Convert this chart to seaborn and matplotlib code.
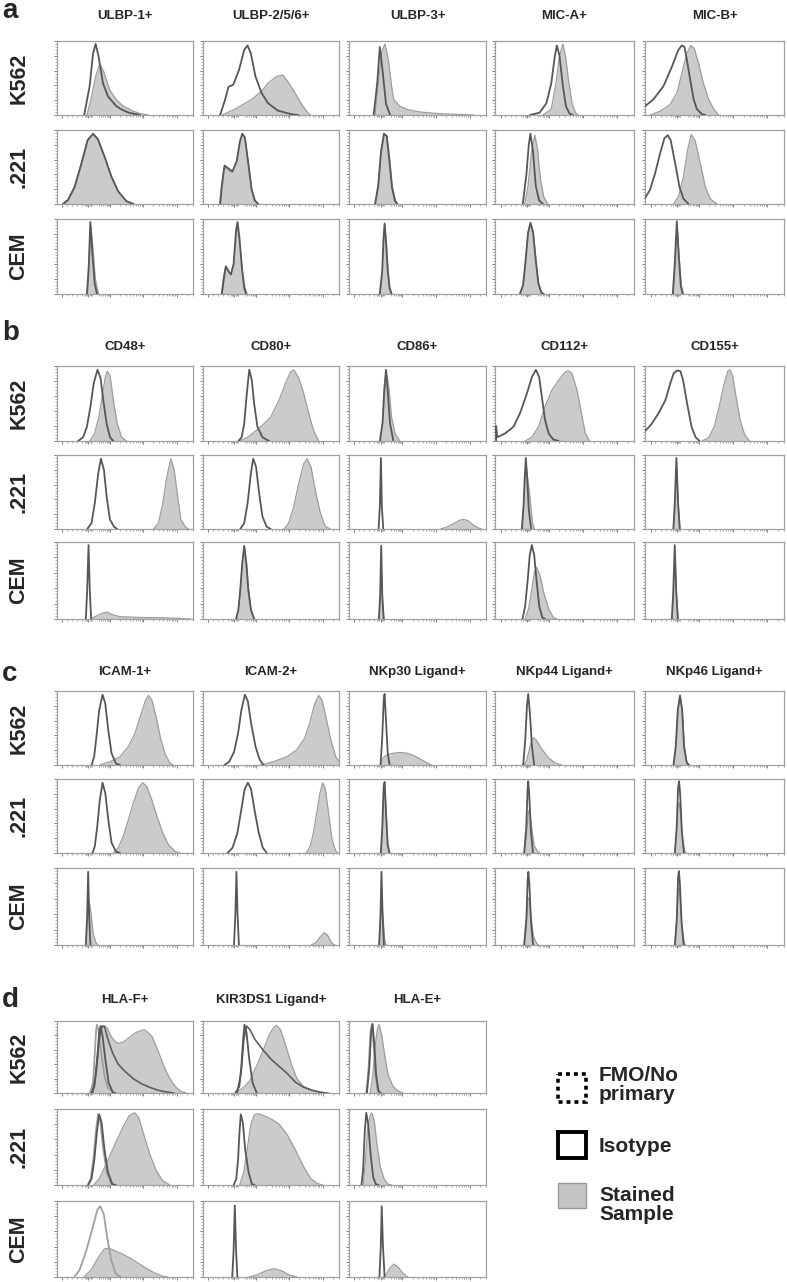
import matplotlib
matplotlib.use("Agg")
import numpy as np
import pandas as pd
import matplotlib.pyplot as plt
from matplotlib.patches import Rectangle
import seaborn as sns

# histogram outlines: (x %, y %) of each box, rows = K562, .221, CEM
CELLS = ["K562", ".221", "CEM"]

# ---- panel a ----
ULBP1_ISO = [
    [(20, 0), (24, 39), (26.5, 83), (28.4, 96), (30.6, 79), (33.8, 43), (37.5, 25), (43.6, 12), (48, 7), (53, 3), (61, 0)],
    [(4.4, 0), (8, 5), (13, 23), (18, 55), (22.5, 86), (26.5, 95), (30, 88), (35, 64), (40, 37), (45, 17), (51, 4), (56, 0)],
    [(22, 0), (23.3, 36), (24.5, 96), (26, 54), (27.7, 14), (29.4, 0)],
]
ULBP1_STAINED = [
    [(22, 0), (25, 21), (28.4, 52), (31.4, 69), (34.3, 59), (38.7, 34), (43.6, 21), (48, 13), (55, 6), (61, 2), (67, 0)],
    [(4, 0), (8, 6), (13, 24), (18, 56), (22.5, 87), (26.5, 94), (30, 87), (35, 63), (40, 37), (45, 17), (51, 4), (57, 0)],
    [(22.5, 0), (23.8, 40), (25, 90), (26.5, 60), (28.2, 20), (30.5, 0)],
]
ULBP256_ISO = [
    [(12.6, 0), (16.3, 21), (18.7, 38), (22.3, 41), (26.5, 61), (30.3, 88), (32.8, 94), (35.2, 83), (38.6, 52), (43, 30), (47.8, 16), (55, 6), (65, 1), (70, 0)],
    [(12.6, 0), (13.8, 23), (15.8, 52), (18.7, 48), (21.6, 44), (24.8, 58), (27.2, 85), (28.9, 95), (30.8, 90), (33.3, 55), (35.7, 20), (38, 5), (40.5, 0)],
    [(13.9, 0), (15.3, 20), (16.8, 37), (18.6, 31), (20.5, 26), (22.5, 40), (24.3, 85), (25.4, 96), (26.8, 75), (28.6, 35), (30.3, 8), (31.7, 0)],
]
ULBP256_STAINED = [
    [(14, 0), (23.5, 8), (35.7, 21), (43, 32), (47.8, 43), (54, 52), (58.7, 54), (62.4, 45), (67, 32), (72, 16), (77, 3), (79, 0)],
    [(12.2, 0), (13.6, 25), (15.6, 50), (18.5, 46), (21.6, 43), (24.8, 57), (27.2, 84), (29.1, 94), (31, 88), (33.5, 52), (36, 18), (38.5, 4), (41, 0)],
    [(13.5, 0), (15, 22), (16.6, 36), (18.6, 30), (20.5, 26), (22.5, 38), (24.5, 80), (25.6, 90), (27.2, 65), (29, 30), (31, 7), (32.5, 0)],
]
ULBP3_ISO = [
    [(18, 0), (20.6, 43), (22.5, 92), (24.5, 60), (27, 15), (30, 0)],
    [(19, 0), (21.3, 25), (23.3, 70), (25.5, 95), (27.5, 92), (29.4, 60), (31.4, 22), (33.6, 4), (35.3, 0)],
    [(22.4, 0), (24.2, 30), (25.2, 75), (26, 94), (27, 70), (28.3, 30), (29.6, 8), (31, 0)],
]
ULBP3_STAINED = [
    [(19, 0), (21.3, 40), (23.8, 85), (26.2, 96), (28.7, 75), (31, 40), (32.6, 21), (37, 12), (42.4, 7.5), (52, 4), (65, 2), (77, 1), (91, 0)],
    [(19.5, 0), (21.5, 22), (23.5, 68), (25.7, 94), (27.7, 92), (29.6, 62), (31.6, 24), (33.8, 5), (35.5, 0)],
    [(22.8, 0), (24.4, 28), (25.4, 70), (26.2, 90), (27.2, 70), (28.5, 32), (29.8, 9), (31.3, 0)],
]
MICA_ISO = [
    [(25, 0), (32, 3), (37, 16), (40.5, 43), (43, 79), (44.5, 94), (46.4, 80), (48.8, 40), (51, 12), (53.6, 2), (56, 0)],
    [(20, 0), (22.6, 40), (24.3, 80), (25.5, 95), (27.4, 70), (29.3, 25), (31.7, 5), (34.5, 0)],
    [(17.9, 0), (20.2, 12), (22, 45), (23.8, 82), (25.5, 95), (27.4, 82), (29.3, 45), (31.2, 14), (33.3, 2), (35, 0)],
]
MICA_STAINED = [
    [(34.5, 0), (40.5, 8), (44, 45), (46.4, 80), (48.8, 96), (50.7, 80), (53, 45), (55.5, 15), (58, 3), (60, 0)],
    [(21.4, 0), (23.8, 25), (26.2, 70), (28.6, 93), (30.5, 75), (32.6, 35), (35, 10), (38, 0)],
    [(18.2, 0), (20.5, 12), (22.3, 45), (24, 82), (25.7, 94), (27.6, 82), (29.5, 45), (31.4, 14), (33.5, 2), (35.3, 0)],
]
MICB_ISO = [
    [(0, 12), (6, 21), (13.3, 39), (19.3, 65), (24, 88), (26.5, 94), (28.4, 92), (30, 76), (32.5, 48), (35, 21), (37.3, 8), (41, 1), (43.4, 0)],
    [(0, 8), (3.6, 19), (7.2, 41), (10.8, 68), (14, 89), (16.4, 93), (18.5, 86), (21.7, 55), (24.8, 23), (27.7, 7), (31.3, 0)],
    [(20, 0), (21.4, 40), (22.9, 97), (24.3, 50), (25.8, 10), (27.2, 0)],
]
MICB_STAINED = [
    [(3.6, 0), (10.8, 5), (18, 14), (23, 30), (26.5, 56), (30, 83), (33, 94), (35.4, 90), (38.5, 70), (42, 43), (45.8, 21), (49.4, 8), (53, 0)],
    [(20.5, 0), (24, 10), (27.7, 37), (30.6, 73), (33.3, 94), (36, 86), (39.8, 55), (43.4, 23), (47, 7), (51.8, 0)],
    [(20.3, 0), (21.7, 35), (23.2, 88), (24.6, 50), (26.1, 12), (27.6, 0)],
]

# ---- panel b ----
CD48_ISO = [
    [(15.5, 0), (19.2, 5), (22, 19), (24.6, 46), (27, 77), (29.8, 95), (32, 84), (34, 55), (36.5, 23), (39, 5), (41.4, 0)],
    [(22.2, 0), (25.4, 8), (27.8, 35), (30.3, 75), (32.3, 95), (34.5, 80), (36.5, 44), (38.9, 13), (41.9, 3), (44.3, 0)],
    [(21.2, 0), (22.2, 38), (23.2, 96), (24.1, 38), (25.1, 0)],
]
CD48_STAINED = [
    [(24, 0), (27.6, 10), (30.8, 32), (33.5, 63), (35.5, 85), (37, 93), (39, 87), (41.4, 55), (44.3, 23), (47.5, 5), (51.2, 0)],
    [(71, 0), (74.6, 8), (77.8, 35), (80.8, 71), (83.7, 95), (86.2, 80), (88.7, 44), (91, 13), (94.3, 3), (96.8, 0)],
    [(25, 0), (26.6, 2), (30.3, 5), (34, 8), (37, 9), (40.1, 6), (46.3, 3), (61, 2), (80.8, 1.5), (93, 0.5), (98, 0)],
]
CD80_ISO = [
    [(26, 0), (28.4, 5), (30.3, 23), (32, 59), (34, 95), (35.9, 81), (37.6, 50), (40, 19), (43.7, 5), (48.5, 0)],
    [(27.4, 0), (30.3, 8), (32.8, 35), (35.2, 75), (36.9, 95), (39, 84), (41.3, 48), (43.7, 17), (46.8, 3), (49.8, 0)],
    [(24.3, 0), (26, 12), (27.4, 38), (28.9, 73), (30.3, 95), (31.8, 73), (33.3, 38), (35.2, 12), (37.6, 0)],
]
CD80_STAINED = [
    [(26.7, 0), (32.8, 5), (42.5, 19), (49.8, 32), (55.8, 54), (60.7, 77), (64.3, 92), (66.7, 95), (70.4, 84), (74, 64), (77.7, 37), (81.3, 14), (85, 0)],
    [(59.5, 0), (63, 8), (66.7, 30), (70.4, 62), (74, 88), (76.5, 95), (79.4, 84), (82.5, 53), (86.2, 22), (89.8, 4), (93.5, 0)],
    [(24.5, 0), (26.2, 12), (27.6, 40), (29.1, 76), (30.5, 93), (32, 73), (33.5, 38), (35.4, 12), (37.8, 0)],
]
CD86_ISO = [
    [(22.5, 0), (24.5, 24), (25.7, 68), (27, 95), (28.2, 68), (29.9, 24), (32.4, 0)],
    [(21.6, 0), (22.5, 30), (23.3, 96), (24, 30), (25, 0)],
    [(21.8, 0), (22.7, 30), (23.5, 95), (24.3, 30), (25.3, 0)],
]
CD86_STAINED = [
    [(23, 0), (24.8, 32), (26.5, 72), (27.7, 88), (29.2, 70), (31, 32), (33.6, 10), (37, 0)],
    [(67, 0), (72, 3), (77, 8), (81, 12), (84, 13), (87, 11), (91, 5), (95, 1), (97, 0)],
    [(22, 0), (22.9, 25), (23.7, 60), (24.5, 25), (25.5, 0)],
]
CD112_ISO = [
    [(0.8, 0), (0.8, 20), (1.6, 5), (7.2, 10), (13.3, 19), (18, 37), (22.9, 63), (26.5, 85), (29.4, 95), (31.8, 85), (33.7, 59), (36, 28), (38.6, 10), (42, 2), (45.8, 0)],
    [(19.3, 0), (20.5, 30), (21.4, 70), (22.2, 96), (23.1, 70), (24.3, 26), (26, 0)],
    [(19.8, 0), (21.7, 17), (23.6, 52), (25, 83), (26.5, 96), (28.2, 83), (30, 48), (31.8, 17), (34, 2), (36, 0)],
]
CD112_STAINED = [
    [(21.7, 0), (26.5, 5), (31.3, 19), (36, 46), (41, 68), (45.8, 81), (49.4, 90), (52.5, 94), (55.4, 90), (59, 68), (62.7, 32), (65, 10), (68, 0)],
    [(19.8, 0), (21, 44), (22.2, 88), (23.4, 70), (24.6, 53), (25.8, 30), (27, 8), (28.4, 0)],
    [(21.7, 0), (24.1, 13), (26.5, 39), (28.4, 61), (30, 67), (32.5, 56), (34.9, 35), (38.6, 13), (42, 2), (44.6, 0)],
]
CD155_ISO = [
    [(0.5, 14), (4.9, 23), (9.7, 37), (14.6, 54), (18.2, 77), (20.6, 90), (23, 94), (25.5, 93), (27.4, 81), (30.3, 50), (33.5, 19), (36.4, 5), (39.3, 0)],
    [(20.4, 0), (21.4, 35), (22.6, 96), (23.8, 35), (25, 0)],
    [(19.3, 0), (20.3, 35), (21.4, 96), (22.5, 35), (23.6, 0)],
]
CD155_STAINED = [
    [(41.3, 0), (46, 5), (49.8, 19), (53.4, 46), (56.3, 72), (59.5, 93), (61.2, 95), (63, 87), (65.5, 59), (68.4, 28), (71.6, 9), (75.2, 0)],
    [(20.6, 0), (21.6, 30), (22.8, 85), (24, 30), (25.2, 0)],
    [(19.5, 0), (20.5, 30), (21.6, 80), (22.7, 30), (23.8, 0)],
]

# ---- panel c ----
ICAM1_ISO = [
    [(25.4, 0), (27.3, 11), (29, 38), (31, 74), (33.5, 95), (35.5, 83), (37.7, 47), (40.1, 16), (43.3, 2), (46.3, 0)],
    [(26.1, 0), (27.8, 9), (29.6, 36), (31.5, 72), (33.5, 95), (35.5, 81), (37.7, 45), (40.1, 14), (43.3, 2), (46.3, 0)],
    [(21.2, 0), (22.2, 40), (22.9, 95), (23.6, 40), (24.6, 0)],
]
ICAM1_STAINED = [
    [(31.5, 0), (39, 4.5), (46.3, 11), (52.5, 25), (57.4, 43), (61.1, 65), (64.8, 86), (67.2, 94), (69.7, 88), (72.9, 65), (75.9, 38), (79.6, 14), (83.3, 2), (85.7, 0)],
    [(41.4, 0), (45, 7), (48.8, 23), (52.5, 45), (56.2, 68), (59.9, 88), (63, 95), (66, 90), (69.7, 72), (73.4, 50), (77.8, 27), (82, 11), (87, 2), (90.6, 0)],
    [(21.2, 0), (22.4, 30), (23.6, 57), (25.1, 40), (26.6, 15), (28.6, 3), (30.3, 0)],
]
ICAM2_ISO = [
    [(15.7, 0), (19.3, 4.5), (22.9, 18), (25.8, 43), (28.2, 74), (30.8, 95), (33, 86), (35.4, 56), (38.6, 25), (41.7, 7), (44.6, 0)],
    [(18, 0), (21.7, 7), (25.3, 27), (28.2, 59), (30.6, 86), (33, 95), (35.4, 86), (37.8, 59), (41, 27), (44, 7), (47, 0)],
    [(22.8, 0), (23.8, 40), (24.6, 95), (25.4, 40), (26.4, 0)],
]
ICAM2_STAINED = [
    [(42.2, 0), (51.8, 4.5), (61.4, 11), (68.7, 20), (74.7, 36), (78.3, 56), (81.9, 81), (85, 94), (87.5, 88), (90.4, 65), (94, 34), (97.6, 11), (100, 5)],
    [(75.9, 0), (78.8, 9), (81.2, 27), (83.6, 54), (86, 81), (88, 95), (90, 86), (92.3, 54), (94.7, 20), (97.1, 5), (98.8, 0)],
    [(79.5, 0), (83, 3), (86, 10), (89, 16), (91.5, 13), (93.5, 6), (95.5, 1), (97, 0)],
]
NKP30_ISO = [
    [(23, 0), (24.2, 35), (25.4, 90), (26, 96), (27, 60), (28.3, 15), (29.7, 0)],
    [(23.2, 0), (24.3, 35), (25.3, 90), (26, 96), (27, 55), (28.2, 12), (29.5, 0)],
    [(22, 0), (23, 40), (23.7, 95), (24.5, 40), (25.5, 0)],
]
NKP30_STAINED = [
    [(23, 0), (25, 10), (27.8, 14), (32.6, 16), (37.7, 17), (42.3, 16), (47, 13), (52, 8), (56.8, 3), (60.4, 0)],
    [(23.4, 0), (24.5, 30), (25.5, 85), (26.2, 90), (27.2, 50), (28.4, 10), (29.7, 0)],
    [(22, 0), (23, 30), (23.8, 62), (24.8, 35), (26, 8), (27, 0)],
]
NKP44_ISO = [
    [(20.3, 0), (21.8, 35), (23, 80), (23.9, 96), (25.1, 70), (26.6, 25), (28.2, 0)],
    [(21, 0), (22.5, 35), (23.4, 85), (23.9, 97), (24.6, 80), (25.8, 30), (27.3, 0)],
    [(21, 0), (22.6, 35), (23.5, 85), (24, 95), (24.7, 80), (25.9, 30), (27.4, 0)],
]
NKP44_STAINED = [
    [(21, 0), (22.7, 6), (24.4, 18), (26.3, 33), (27.8, 37), (29.9, 33), (33.5, 22), (38.3, 10), (43, 3), (47.8, 0)],
    [(21, 0), (22.5, 20), (24, 55), (24.9, 59), (26.3, 35), (28.2, 10), (30.6, 2), (32.3, 0)],
    [(21, 0), (22.5, 20), (23.8, 60), (24.6, 62), (26, 35), (27.8, 10), (30, 2), (31.5, 0)],
]
NKP46_ISO = [
    [(20.5, 0), (22.1, 25), (23.6, 75), (25.2, 94), (26.7, 75), (28.1, 25), (30, 3), (31.7, 0)],
    [(21.5, 0), (22.8, 35), (23.8, 88), (24.5, 97), (25.3, 80), (26.5, 30), (28, 0)],
    [(21.5, 0), (22.9, 35), (23.8, 88), (24.4, 96), (25.1, 80), (26.3, 30), (27.8, 0)],
]
NKP46_STAINED = [
    [(20.8, 0), (22.3, 25), (23.8, 72), (25.3, 92), (26.8, 73), (28.3, 25), (30.2, 3), (32, 0)],
    [(21.5, 0), (22.8, 30), (23.8, 62), (24.6, 68), (25.5, 55), (26.8, 22), (28.5, 3), (29.5, 0)],
    [(21.5, 0), (22.9, 30), (23.8, 70), (24.5, 75), (25.3, 60), (26.6, 22), (28.2, 3), (29.2, 0)],
]

# ---- panel d ----
HLAF_FMO = [
    [(24.2, 0), (26.5, 14), (27.8, 56), (28.8, 88), (29.5, 95), (30.8, 84), (32.8, 51), (35, 23), (37.5, 7), (41.5, 0)],
    [(22.5, 0), (24.8, 8), (26.8, 34), (28.5, 69), (30.2, 93), (32, 82), (34, 47), (36.6, 17), (40, 1), (42.5, 0)],
    [(12.7, 0), (16.5, 9), (21.6, 35), (26.2, 65), (29.8, 89), (31.8, 93), (34.4, 83), (36.9, 52), (39.9, 22), (43.3, 4), (47, 0)],
]
HLAF_ISO = [
    [(25.4, 0), (27.5, 9), (29.5, 47), (31, 84), (32, 93), (33.5, 79), (35.5, 47), (38, 14), (41, 1), (43, 0)],
    [(22.9, 0), (25.4, 8), (27.5, 34), (29.3, 69), (31, 93), (32.8, 82), (34.9, 47), (37.4, 17), (40.7, 1), (43.3, 0)],
    None,
]
HLAF_TAIL = [
    [(26.2, 0), (28.8, 28), (31, 74), (33, 93), (35, 92), (37.5, 74), (41, 55), (45, 40), (50, 30), (56, 20), (62, 13), (68, 8), (74, 4), (80, 1.5), (86, 0)],
    None,
    None,
]
HLAF_STAINED = [
    [(25.4, 0), (28, 23), (30.5, 65), (32.5, 88), (34.5, 94), (37, 90), (40, 78), (43, 71), (45, 69), (49, 71), (53, 77), (58, 84), (62, 87), (64, 88), (67, 84), (70, 78), (74, 60), (78, 40), (81, 27), (85, 14), (88, 7), (91.5, 2), (95, 0)],
    [(27, 0), (31, 8), (35.5, 25), (40, 43), (44.5, 61), (49, 78), (53, 91), (57, 95), (60, 89), (64, 65), (68.5, 39), (73, 19), (77.5, 6), (83, 0)],
    [(19.8, 0), (24.9, 9), (30.5, 26), (34.9, 37), (38.2, 38), (42, 35), (48.3, 30), (54.7, 24), (62.3, 15), (70, 7), (77.6, 1), (81.4, 0)],
]
KIR_ISO = [
    [(23.8, 0), (26.7, 9), (28.2, 37), (29.5, 74), (30.5, 95), (32, 84), (34, 47), (36.5, 14), (39.5, 0)],
    [(22.6, 0), (24.5, 8), (25.8, 34), (26.8, 69), (27.8, 93), (29.3, 82), (31, 47), (33.5, 17), (36, 1), (38, 0)],
    [(21.5, 0), (22.5, 35), (23.4, 94), (24.3, 35), (25.3, 0)],
]
KIR_TAIL = [
    [(25, 0), (28, 28), (30, 74), (32, 93), (34.5, 88), (38, 75), (44, 60), (50, 47), (56, 37), (62, 27), (68, 15), (74, 8), (80, 4), (86, 1), (91, 0)],
    None,
    None,
]
KIR_STAINED = [
    [(24, 0), (30, 8), (34, 16), (40, 40), (45, 63), (49, 82), (52, 91), (54, 94), (57, 88), (61, 65), (65, 40), (69, 20), (74, 9), (80, 4), (87, 1), (93, 0)],
    [(27, 0), (30, 17), (32.5, 47), (35, 78), (37.5, 92), (40, 94), (45, 91), (51, 86), (56, 80), (62, 66), (68, 46), (74, 24), (79, 9), (84, 2), (88, 0)],
    [(34, 0), (40, 3), (46, 8), (52.4, 11), (58, 8), (63, 3), (69, 0)],
]
HLAE_FMO = [
    [(12.6, 0), (14.3, 35), (15.7, 85), (16.7, 95), (17.9, 70), (19.3, 25), (21, 3), (22.7, 0)],
    None,
    None,
]
HLAE_ISO = [
    [(13.1, 0), (14.8, 35), (16.2, 85), (17.2, 96), (18.4, 70), (19.8, 25), (21.5, 3), (23.2, 0)],
    [(9.1, 0), (10.3, 20), (11.5, 70), (12.6, 95), (14, 80), (15.8, 40), (17.7, 10), (19.6, 1), (21.5, 0)],
    [(22.2, 0), (23.2, 40), (23.9, 93), (24.8, 40), (26, 0)],
]
HLAE_STAINED = [
    [(15.5, 0), (17.4, 25), (19.1, 65), (20.8, 90), (22, 95), (23.9, 80), (26.3, 50), (28.6, 25), (32.2, 9), (35.8, 3), (39.4, 0)],
    [(10.3, 0), (11.9, 30), (13.6, 75), (15.3, 90), (16.7, 95), (18.4, 85), (20.3, 55), (22.7, 25), (25.8, 7), (28.6, 1), (31, 0)],
    [(25, 0), (27.4, 4), (29.8, 12), (32.9, 17), (35.8, 13), (39.4, 5), (42.9, 0)],
]

NONE3 = [None, None, None]

PANELS = [
    ("a", ["ULBP-1+", "ULBP-2/5/6+", "ULBP-3+", "MIC-A+", "MIC-B+"],
     [(ULBP1_STAINED, NONE3, NONE3, ULBP1_ISO), (ULBP256_STAINED, NONE3, NONE3, ULBP256_ISO),
      (ULBP3_STAINED, NONE3, NONE3, ULBP3_ISO), (MICA_STAINED, NONE3, NONE3, MICA_ISO),
      (MICB_STAINED, NONE3, NONE3, MICB_ISO)]),
    ("b", ["CD48+", "CD80+", "CD86+", "CD112+", "CD155+"],
     [(CD48_STAINED, NONE3, NONE3, CD48_ISO), (CD80_STAINED, NONE3, NONE3, CD80_ISO),
      (CD86_STAINED, NONE3, NONE3, CD86_ISO), (CD112_STAINED, NONE3, NONE3, CD112_ISO),
      (CD155_STAINED, NONE3, NONE3, CD155_ISO)]),
    ("c", ["ICAM-1+", "ICAM-2+", "NKp30 Ligand+", "NKp44 Ligand+", "NKp46 Ligand+"],
     [(ICAM1_STAINED, NONE3, NONE3, ICAM1_ISO), (ICAM2_STAINED, NONE3, NONE3, ICAM2_ISO),
      (NKP30_STAINED, NONE3, NONE3, NKP30_ISO), (NKP44_STAINED, NONE3, NONE3, NKP44_ISO),
      (NKP46_STAINED, NONE3, NONE3, NKP46_ISO)]),
    ("d", ["HLA-F+", "KIR3DS1 Ligand+", "HLA-E+"],
     [(HLAF_STAINED, HLAF_FMO, HLAF_TAIL, HLAF_ISO), (KIR_STAINED, NONE3, KIR_TAIL, KIR_ISO),
      (HLAE_STAINED, HLAE_FMO, NONE3, HLAE_ISO)]),
]

# layout in pixels of the 787x1282 canvas
W, H = 787, 1282
COLS = [(57, 193), (203, 339), (349, 486), (495, 634), (645, 784)]
ROWS = {
    "a": [(41, 115), (130, 204), (219, 294)],
    "b": [(366, 441), (455, 529), (542, 619)],
    "c": [(691, 765), (779, 853), (868, 945)],
    "d": [(1021, 1093), (1109, 1185), (1201, 1277)],
}
LETTER_Y = {"a": 18, "b": 340, "c": 681, "d": 1007}
TITLE_Y = {"a": 16, "b": 347, "c": 672, "d": 1000}

FILL = "#cbcbcb"
FILL_EDGE = "#9e9e9e"
ISO_C = "#575757"
FMO_C = "#a0a0a0"
TAIL_C = "#5e5e5e"
SPINE = "#a0a0a0"

sns.set_theme(style="white")
plt.rcParams["font.family"] = ["Liberation Sans", "DejaVu Sans"]

fig = plt.figure(figsize=(W / 100, H / 100), dpi=100)

# fake biexponential axis ticks
x_major = [4, 23, 39, 63.5, 88]
x_minor = list(np.arange(7.5, 21, 3.7)) + [20.5, 21.3, 22.1, 23.9, 24.7, 25.5]
for lo in (39, 63.5):
    x_minor += [lo + 24.5 * np.log10(k) for k in range(2, 10)]
x_minor += [88 + 24.5 * np.log10(k) for k in range(2, 4)]
x_minor += [23 + 16 * np.log10(k) for k in range(3, 10)]


def curve_df(pts):
    return pd.DataFrame(pts, columns=["x", "y"])


def draw_box(ax, stained, fmo, tail, iso):
    if stained is not None:
        d = curve_df(stained)
        ax.fill_between(d["x"], d["y"], 0, color=FILL, lw=0, zorder=1)
        sns.lineplot(data=d, x="x", y="y", ax=ax, color=FILL_EDGE, lw=0.9,
                     sort=False, estimator=None, zorder=2)
    if fmo is not None:
        sns.lineplot(data=curve_df(fmo), x="x", y="y", ax=ax, color=FMO_C, lw=1.3,
                     sort=False, estimator=None, zorder=3)
    if tail is not None:
        sns.lineplot(data=curve_df(tail), x="x", y="y", ax=ax, color=TAIL_C, lw=1.2,
                     sort=False, estimator=None, zorder=4)
    if iso is not None:
        sns.lineplot(data=curve_df(iso), x="x", y="y", ax=ax, color=ISO_C, lw=1.3,
                     sort=False, estimator=None, zorder=5)
    for ln in ax.lines:
        ln.set_solid_joinstyle("round")
    ax.set_xlim(0, 100)
    ax.set_ylim(0, 100)
    ax.set_xlabel("")
    ax.set_ylabel("")
    ax.set_xticks(x_major)
    ax.set_xticks(x_minor, minor=True)
    ax.set_yticks(np.arange(0, 101, 20))
    ax.set_yticks(np.arange(0, 101, 4), minor=True)
    ax.set_xticklabels([])
    ax.set_yticklabels([])
    ax.tick_params(which="major", length=2.4, width=0.6, color="#6a6a6a", direction="out",
                   bottom=True, left=True, pad=0)
    ax.tick_params(which="minor", length=1.1, width=0.5, color="#8a8a8a", direction="out",
                   bottom=True, left=True)
    for sp in ax.spines.values():
        sp.set_color(SPINE)
        sp.set_linewidth(0.9)
    ax.grid(False)


for letter, titles, cols in PANELS:
    rows = ROWS[letter]
    fig.text(2 / W, 1 - LETTER_Y[letter] / H, letter, fontsize=20, fontweight="bold",
             va="baseline", ha="left")
    for ci, (title, series) in enumerate(zip(titles, cols)):
        x0, x1 = COLS[ci]
        fig.text((x0 + x1) / 2 / W, 1 - TITLE_Y[letter] / H, title, fontsize=9.5,
                 fontweight="bold", ha="center", va="center")
        stained, fmo, tail, iso = series
        for ri, (y0, y1) in enumerate(rows):
            ax = fig.add_axes([x0 / W, 1 - y1 / H, (x1 - x0) / W, (y1 - y0) / H])
            draw_box(ax, stained[ri], fmo[ri], tail[ri], iso[ri])
    for ri, (y0, y1) in enumerate(rows):
        fig.text(19 / W, 1 - (y0 + y1) / 2 / H, CELLS[ri], fontsize=15.5, fontweight="bold",
                 rotation=90, ha="center", va="center")

# legend drawn in pixel units
lg = fig.add_axes([0, 0, 1, 1], facecolor="none")
lg.set_xlim(0, W)
lg.set_ylim(H, 0)
lg.axis("off")
lg.add_patch(Rectangle((558, 1074), 28, 28, fill=False, ec="black", lw=2.6, ls=(0, (1.1, 1.1))))
lg.add_patch(Rectangle((558, 1132), 28, 26, fill=False, ec="black", lw=2.8))
lg.add_patch(Rectangle((558, 1183), 28, 25, fc="#c4c4c4", ec="#9a9a9a", lw=1.0))
lg.text(599, 1085, "FMO/No\nprimary", fontsize=15, fontweight="bold", va="center",
        ha="left", linespacing=1.05)
lg.text(599, 1146, "Isotype", fontsize=15, fontweight="bold", va="center", ha="left")
lg.text(599, 1205, "Stained\nSample", fontsize=15, fontweight="bold", va="center",
        ha="left", linespacing=1.05)

fig.savefig("out.png", dpi=100)
